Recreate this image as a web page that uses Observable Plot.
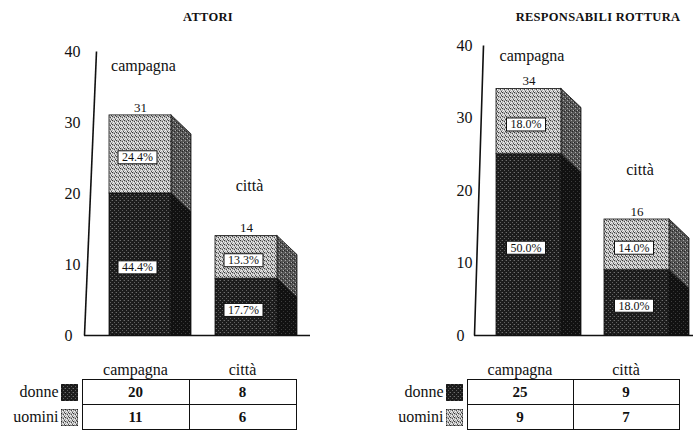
<!DOCTYPE html>
<html>
<head>
<meta charset="utf-8">
<script src="https://cdn.jsdelivr.net/npm/d3@7"></script>
<script src="https://cdn.jsdelivr.net/npm/@observablehq/plot@0.6"></script>
<style>
  body { margin: 0; background: #fff; }
  #root { position: relative; width: 693px; height: 432px; overflow: hidden; background: #fff;
          font-family: "Liberation Serif", "DejaVu Serif", serif; color: #111; }
  .panel { position: absolute; top: 0; height: 432px; }
  .panel > svg { position: absolute; left: 0; top: 0; }
  .title { position: absolute; top: 10px; line-height: 15px; font-size: 12.5px; font-weight: bold;
           font-family: "Liberation Serif", "DejaVu Serif", serif;
           transform: translateX(-50%); white-space: nowrap; letter-spacing: 0.3px; }
  table.tab { position: absolute; border-collapse: collapse; color: #111;
              font-family: "Liberation Serif", "DejaVu Serif", serif; }
  table.tab th, table.tab td { font-family: "Liberation Serif", "DejaVu Serif", serif; }
  table.tab th.hd { font-weight: normal; font-size: 16px; line-height: 16px; height: 18px; padding: 0 0 1px 0;
                    vertical-align: bottom; text-align: center; border: none; }
  table.tab td.lab { font-size: 16px; text-align: right; padding: 0 4px 0 0; border: none; white-space: nowrap; }
  table.tab td.val { border: 1.5px solid #111; text-align: center; font-weight: bold; font-size: 15px; padding: 0; }
  .sw { display: inline-block; width: 17px; height: 17px; vertical-align: middle; margin-left: 2px; }
</style>
</head>
<body>
<svg width="0" height="0" style="position:absolute">
  <defs>
    <pattern id="pLight" width="4" height="4" patternUnits="userSpaceOnUse">
      <rect width="4" height="4" fill="#b4b4b4"/>
      <rect x="0" y="0" width="1" height="1" fill="#3a3a3a"/>
      <rect x="2" y="1" width="1" height="1" fill="#474747"/>
      <rect x="1" y="2" width="1" height="1" fill="#f2f2f2"/>
      <rect x="3" y="3" width="1" height="1" fill="#4a4a4a"/>
      <rect x="3" y="1" width="1" height="1" fill="#f6f6f6"/>
      <rect x="0" y="3" width="1" height="1" fill="#efefef"/>
      <rect x="2" y="3" width="1" height="1" fill="#e6e6e6"/>
    </pattern>
    <pattern id="pLightSide" width="4" height="4" patternUnits="userSpaceOnUse">
      <rect width="4" height="4" fill="#555"/>
      <rect x="1" y="0" width="1" height="1" fill="#a8a8a8"/>
      <rect x="3" y="2" width="1" height="1" fill="#b0b0b0"/>
      <rect x="0" y="2" width="1" height="1" fill="#222"/>
      <rect x="2" y="3" width="1" height="1" fill="#262626"/>
    </pattern>
    <pattern id="pDark" width="4" height="4" patternUnits="userSpaceOnUse">
      <rect width="4" height="4" fill="#1c1c1c"/>
      <rect x="0" y="0" width="1" height="1" fill="#6e6e6e"/>
      <rect x="2" y="2" width="1" height="1" fill="#606060"/>
      <rect x="3" y="0" width="1" height="1" fill="#3a3a3a"/>
    </pattern>
    <pattern id="pDarkSide" width="4" height="4" patternUnits="userSpaceOnUse">
      <rect width="4" height="4" fill="#111"/>
      <rect x="1" y="1" width="1" height="1" fill="#3e3e3e"/>
      <rect x="3" y="3" width="1" height="1" fill="#333"/>
    </pattern>
  </defs>
</svg>
<div id="root"></div>
<script>
// ---------------- data ----------------
const categories = ["campagna", "città"];
const series = ["donne", "uomini"];
const yTicks = [0, 10, 20, 30, 40];

const attoriTitle = "ATTORI";
const attoriDonne = [20, 8];
const attoriUomini = [11, 6];
const attoriPctDonne = ["44.4%", "17.7%"];
const attoriPctUomini = ["24.4%", "13.3%"];

const rottTitle = "RESPONSABILI ROTTURA";
const rottDonne = [25, 9];
const rottUomini = [9, 7];
const rottPctDonne = ["50.0%", "18.0%"];
const rottPctUomini = ["18.0%", "14.0%"];

// ---------------- styles / layout ----------------
const FONT = '"Liberation Serif", "DejaVu Serif", serif';
const fillFront = {donne: "url(#pDark)", uomini: "url(#pLight)"};
const fillSide = {donne: "url(#pDarkSide)", uomini: "url(#pLightSide)"};
const swatch = {donne: "pDark", uomini: "pLight"};

const panels = [
  {title: attoriTitle, values: [attoriDonne, attoriUomini], pct: [attoriPctDonne, attoriPctUomini],
   left: 0, width: 346, ml: 84, mr: 36, mt: 51, xr: [140, 246], axisTopX: 96, tickX: 64,
   titleX: 208, half: 31, labelW: 82, colW: 107},
  {title: rottTitle, values: [rottDonne, rottUomini], pct: [rottPctDonne, rottPctUomini],
   left: 346, width: 347, ml: 128, mr: 0, mt: 45, xr: [182.5, 290.5], axisTopX: 137, tickX: 110,
   titleX: 252, half: 32.5, labelW: 121, colW: 106}
];

const H = 345, baseY = 335, depthX = 20, depthY = 19;
const root = document.getElementById("root");

function drawPanel(p) {
  const div = document.createElement("div");
  div.className = "panel";
  div.style.left = p.left + "px";
  div.style.width = p.width + "px";
  root.appendChild(div);

  const t = document.createElement("div");
  t.className = "title";
  t.style.left = p.titleX + "px";
  t.textContent = p.title;
  div.appendChild(t);

  const kx = p.xr[1] - p.xr[0];
  const ky = (baseY - p.mt) / 40;
  const half = p.half / kx, dX = depthX / kx, dY = depthY / ky;

  const rows = [];
  categories.forEach((cat, i) => {
    let base = 0;
    series.forEach((s, j) => {
      const v = p.values[j][i];
      rows.push({cat, i, s, lo: base, hi: base + v, pct: p.pct[j][i]});
      base += v;
    });
  });
  const totals = categories.map((cat, i) => ({cat, i, total: p.values[0][i] + p.values[1][i]}));
  const side = rows.flatMap(r => [
    {key: r.cat + r.s, s: r.s, x: r.i + half, y1: r.lo, y2: r.hi},
    {key: r.cat + r.s, s: r.s, x: r.i + half + dX, y1: r.lo - dY, y2: r.hi - dY}
  ]);

  const marks = [];
  for (const s of series) {
    marks.push(Plot.areaY(side.filter(d => d.s === s), {
      x: "x", y1: "y1", y2: "y2", z: "key", fill: fillSide[s], stroke: "#111", strokeWidth: 0.8, clip: true
    }));
  }
  for (const s of series) {
    marks.push(Plot.rect(rows.filter(d => d.s === s), {
      x1: d => d.i - half, x2: d => d.i + half, y1: "lo", y2: "hi",
      fill: fillFront[s], stroke: "#111", strokeWidth: 0.8
    }));
  }
  const axisLine = [{x1: (p.ml - p.xr[0]) / kx, y1: yTicks[0], x2: (p.axisTopX - p.xr[0]) / kx, y2: yTicks[yTicks.length - 1]}];
  marks.push(
    Plot.ruleY([0], {stroke: "#111", strokeWidth: 1.6}),
    Plot.link(axisLine, {x1: "x1", y1: "y1", x2: "x2", y2: "y2", stroke: "#111", strokeWidth: 1.6}),
    Plot.axisY(yTicks, {anchor: "left", tickSize: 0, tickPadding: 0, textAnchor: "start",
      dx: p.tickX - p.ml, fontSize: 16, fontFamily: FONT, label: null, fill: "#111"}),
    Plot.text(rows, {x: "i", y: d => (d.lo + d.hi) / 2, text: "pct", dx: -3, dy: 3,
      fontSize: 12, fontFamily: FONT, fill: "#111"}),
    Plot.text(totals, {x: "i", y: "total", text: d => String(d.total), dy: -8, fontSize: 13, fontFamily: FONT, fill: "#111"}),
    Plot.text(totals, {x: "i", y: d => Math.min(d.total + 50 / ky, 40 - 10 / ky), text: "cat",
      dx: 3, fontSize: 16, fontFamily: FONT, fill: "#111"})
  );

  const svg = Plot.plot({
    width: p.width, height: H,
    marginLeft: p.ml, marginRight: p.mr, marginTop: p.mt, marginBottom: H - baseY,
    x: {type: "linear", domain: [0, 1], range: p.xr, axis: null},
    y: {type: "linear", domain: [0, 40], range: [baseY, p.mt]},
    style: {fontFamily: FONT, background: "transparent", overflow: "visible"},
    marks
  });
  div.appendChild(svg);

  // white boxes behind the percentage labels
  const pctSet = new Set(rows.map(r => r.pct));
  svg.querySelectorAll("text").forEach(tx => {
    if (!pctSet.has(tx.textContent) || tx.closest("[aria-label*=axis]")) return;
    const b = tx.getBBox();
    const r = document.createElementNS("http://www.w3.org/2000/svg", "rect");
    r.setAttribute("x", b.x - 4);
    r.setAttribute("y", b.y + 0.5);
    r.setAttribute("width", b.width + 8);
    r.setAttribute("height", b.height - 1);
    r.setAttribute("fill", "#fff");
    r.setAttribute("stroke", "#111");
    r.setAttribute("stroke-width", "1");
    const tr = tx.getAttribute("transform");
    if (tr) r.setAttribute("transform", tr);
    tx.parentNode.insertBefore(r, tx);
  });

  // data table
  const tab = document.createElement("table");
  tab.className = "tab";
  tab.style.left = "0px";
  tab.style.top = "360px";
  let html = `<tr><th class="hd" style="width:${p.labelW}px"></th>` +
    categories.map(c => `<th class="hd" style="width:${p.colW}px">${c}</th>`).join("") + "</tr>";
  series.forEach((s, j) => {
    html += `<tr style="height:25px"><td class="lab">${s}<svg class="sw" viewBox="0 0 17 17"><rect width="17" height="17" fill="url(#${swatch[s]})" stroke="#111" stroke-width="0.8"/></svg></td>` +
      categories.map((c, i) => `<td class="val">${p.values[j][i]}</td>`).join("") + "</tr>";
  });
  tab.innerHTML = html;
  div.appendChild(tab);
}

panels.forEach(drawPanel);
</script>
</body>
</html>
